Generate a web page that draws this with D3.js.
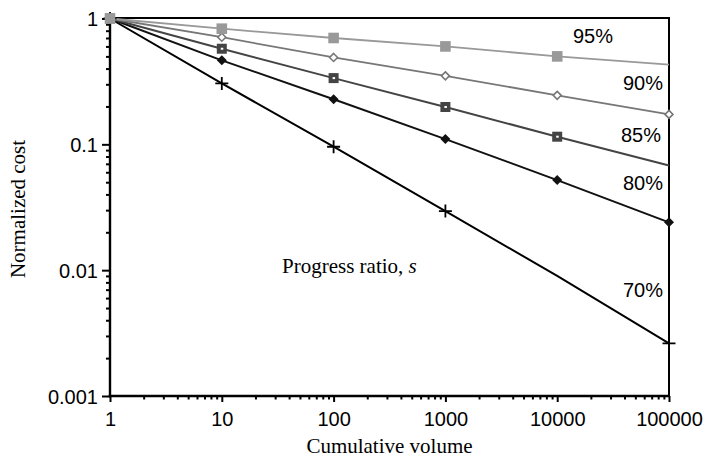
<!DOCTYPE html>
<html>
<head>
<meta charset="utf-8">
<script src="https://cdn.jsdelivr.net/npm/d3@7"></script>
<style>
  html, body { margin: 0; padding: 0; background: #fff; }
  svg { display: block; }
</style>
</head>
<body>
<svg id="chart" width="704" height="462"></svg>
<script>
// ---- Data ----
const volumes = [1, 10, 100, 1000, 10000, 100000];
const cost95 = [1, 0.83, 0.70, 0.60, 0.50, 0.43];
const cost90 = [1, 0.71, 0.49, 0.35, 0.245, 0.173];
const cost85 = [1, 0.575, 0.336, 0.198, 0.115, 0.068];
const cost80 = [1, 0.465, 0.228, 0.11, 0.052, 0.024];
const cost70 = [1, 0.305, 0.0957, 0.0295, 0.009, 0.00262];
const seriesLabels = ["70%", "80%", "85%", "90%", "95%"];
const xTickLabels = ["1", "10", "100", "1000", "10000", "100000"];
const yTickValues = [0.001, 0.01, 0.1, 1];
const yTickLabels = ["0.001", "0.01", "0.1", "1"];
// which points carry a marker (indices into volumes)
const markers70 = [0, 1, 2, 3, 5];
const markers80 = [0, 1, 2, 3, 4, 5];
const markers85 = [0, 1, 2, 3, 4];
const markers90 = [0, 1, 2, 3, 4, 5];
const markers95 = [0, 1, 2, 3, 4];

(function () {
const svg = d3.select("#chart");
const pL = 110, pR = 669, pT = 18.5, pB = 396;

const x = d3.scaleLog().domain([1, 100000]).range([pL, pR]);
const y = d3.scaleLog().domain([0.001, 1]).range([pB, pT]);

// frame: top and right borders
svg.append("line").attr("x1", pL).attr("x2", pR).attr("y1", pT - 0.5).attr("y2", pT - 0.5)
  .attr("stroke", "#000").attr("stroke-width", 2);
svg.append("line").attr("x1", pR).attr("x2", pR).attr("y1", pT - 1.5).attr("y2", pB)
  .attr("stroke", "#000").attr("stroke-width", 2);

// minor ticks
const yMinor = [];
const xMinor = [];
for (let e = -3; e < 0; e++) for (let m = 2; m <= 9; m++) yMinor.push(m * Math.pow(10, e));
for (let e = 0; e < 5; e++) for (let m = 2; m <= 9; m++) xMinor.push(m * Math.pow(10, e));

const tickFont = "'Liberation Sans', Arial, Helvetica, sans-serif";

const gy = svg.append("g").attr("transform", `translate(${pL},0)`);
gy.call(d3.axisLeft(y).tickValues(yMinor).tickSize(4).tickSizeOuter(0).tickFormat(""));
gy.select(".domain").remove();
const gyMaj = svg.append("g").attr("transform", `translate(${pL},0)`);
gyMaj.call(d3.axisLeft(y).tickValues(yTickValues).tickSize(8).tickSizeOuter(0)
  .tickFormat((d, i) => yTickLabels[i]).tickPadding(4));
gyMaj.select(".domain").remove();

const gx = svg.append("g").attr("transform", `translate(0,${pB})`);
gx.call(d3.axisBottom(x).tickValues(xMinor).tickSize(3.5).tickSizeOuter(0).tickFormat(""));
gx.select(".domain").remove();
const gxMaj = svg.append("g").attr("transform", `translate(0,${pB})`);
gxMaj.call(d3.axisBottom(x).tickValues(volumes).tickSize(6).tickSizeOuter(0)
  .tickFormat((d, i) => xTickLabels[i]).tickPadding(10));
gxMaj.select(".domain").remove();

svg.selectAll(".tick line").attr("stroke", "#000").attr("stroke-width", 2);
svg.selectAll(".tick text").attr("font-family", tickFont).attr("font-size", 20).attr("fill", "#000");
gyMaj.selectAll(".tick text").attr("dy", "0.36em");

// axis lines
svg.append("line").attr("x1", pL).attr("x2", pL).attr("y1", pT - 1.5).attr("y2", pB + 1.3)
  .attr("stroke", "#000").attr("stroke-width", 2.4);
svg.append("line").attr("x1", pL - 1.2).attr("x2", pR + 1).attr("y1", pB).attr("y2", pB)
  .attr("stroke", "#000").attr("stroke-width", 2.6);

// series
const series = [
  { label: seriesLabels[0], vals: cost70, marks: markers70, color: "#000", width: 2, marker: "plus" },
  { label: seriesLabels[1], vals: cost80, marks: markers80, color: "#111", width: 2, marker: "diamondFill" },
  { label: seriesLabels[2], vals: cost85, marks: markers85, color: "#444", width: 2, marker: "squareDot" },
  { label: seriesLabels[3], vals: cost90, marks: markers90, color: "#777", width: 1.8, marker: "diamondOpen" },
  { label: seriesLabels[4], vals: cost95, marks: markers95, color: "#999", width: 1.8, marker: "squareFill" }
];

const line = d3.line().x(d => x(d[0])).y(d => y(d[1]));

series.forEach(s => {
  const pts = volumes.map((v, i) => [v, s.vals[i]]);
  svg.append("path").datum(pts).attr("d", line)
    .attr("fill", "none").attr("stroke", s.color).attr("stroke-width", s.width);
});

series.forEach(s => {
  const g = svg.append("g");
  s.marks.forEach(i => {
    const cx = x(volumes[i]), cy = y(s.vals[i]);
    const m = g.append("g").attr("transform", `translate(${cx},${cy})`);
    if (s.marker === "plus") {
      m.append("path").attr("d", "M-6.5,0H6.5M0,-6.5V6.5").attr("stroke", "#000").attr("stroke-width", 1.8);
    } else if (s.marker === "diamondFill") {
      m.append("path").attr("d", "M0,-5L5,0L0,5L-5,0Z").attr("fill", "#111");
    } else if (s.marker === "squareDot") {
      m.append("rect").attr("x", -5).attr("y", -5).attr("width", 10).attr("height", 10).attr("fill", "#444");
      m.append("rect").attr("x", -1).attr("y", -1).attr("width", 2.5).attr("height", 2).attr("fill", "#fff");
    } else if (s.marker === "diamondOpen") {
      m.append("path").attr("d", "M0,-4L4,0L0,4L-4,0Z").attr("fill", "#fff")
        .attr("stroke", "#777").attr("stroke-width", 1.6);
    } else if (s.marker === "squareFill") {
      m.append("rect").attr("x", -5.3).attr("y", -5.3).attr("width", 10.6).attr("height", 10.6).attr("fill", "#999");
    }
  });
});

// series labels
const labelPos = [
  { t: seriesLabels[4], x: 573, y: 43 },
  { t: seriesLabels[3], x: 623, y: 90 },
  { t: seriesLabels[2], x: 621, y: 142 },
  { t: seriesLabels[1], x: 623, y: 190 },
  { t: seriesLabels[0], x: 623, y: 297 }
];
svg.selectAll(".slabel").data(labelPos).join("text").attr("class", "slabel")
  .attr("x", d => d.x).attr("y", d => d.y).text(d => d.t)
  .attr("font-family", tickFont).attr("font-size", 20).attr("fill", "#000");

const serif = "'Liberation Serif', 'Times New Roman', Times, serif";
// annotation
const ann = svg.append("text").attr("x", 282).attr("y", 273)
  .attr("font-family", serif).attr("font-size", 21).attr("fill", "#000");
ann.append("tspan").text("Progress ratio, ");
ann.append("tspan").attr("font-style", "italic").text("s");

// axis titles
svg.append("text").attr("x", (pL + pR) / 2).attr("y", 453).attr("text-anchor", "middle")
  .attr("font-family", serif).attr("font-size", 21).attr("fill", "#000").text("Cumulative volume");
svg.append("text").attr("transform", "translate(25,209) rotate(-90)").attr("text-anchor", "middle")
  .attr("font-family", serif).attr("font-size", 21).attr("fill", "#000").text("Normalized cost");
})();
</script>
</body>
</html>
